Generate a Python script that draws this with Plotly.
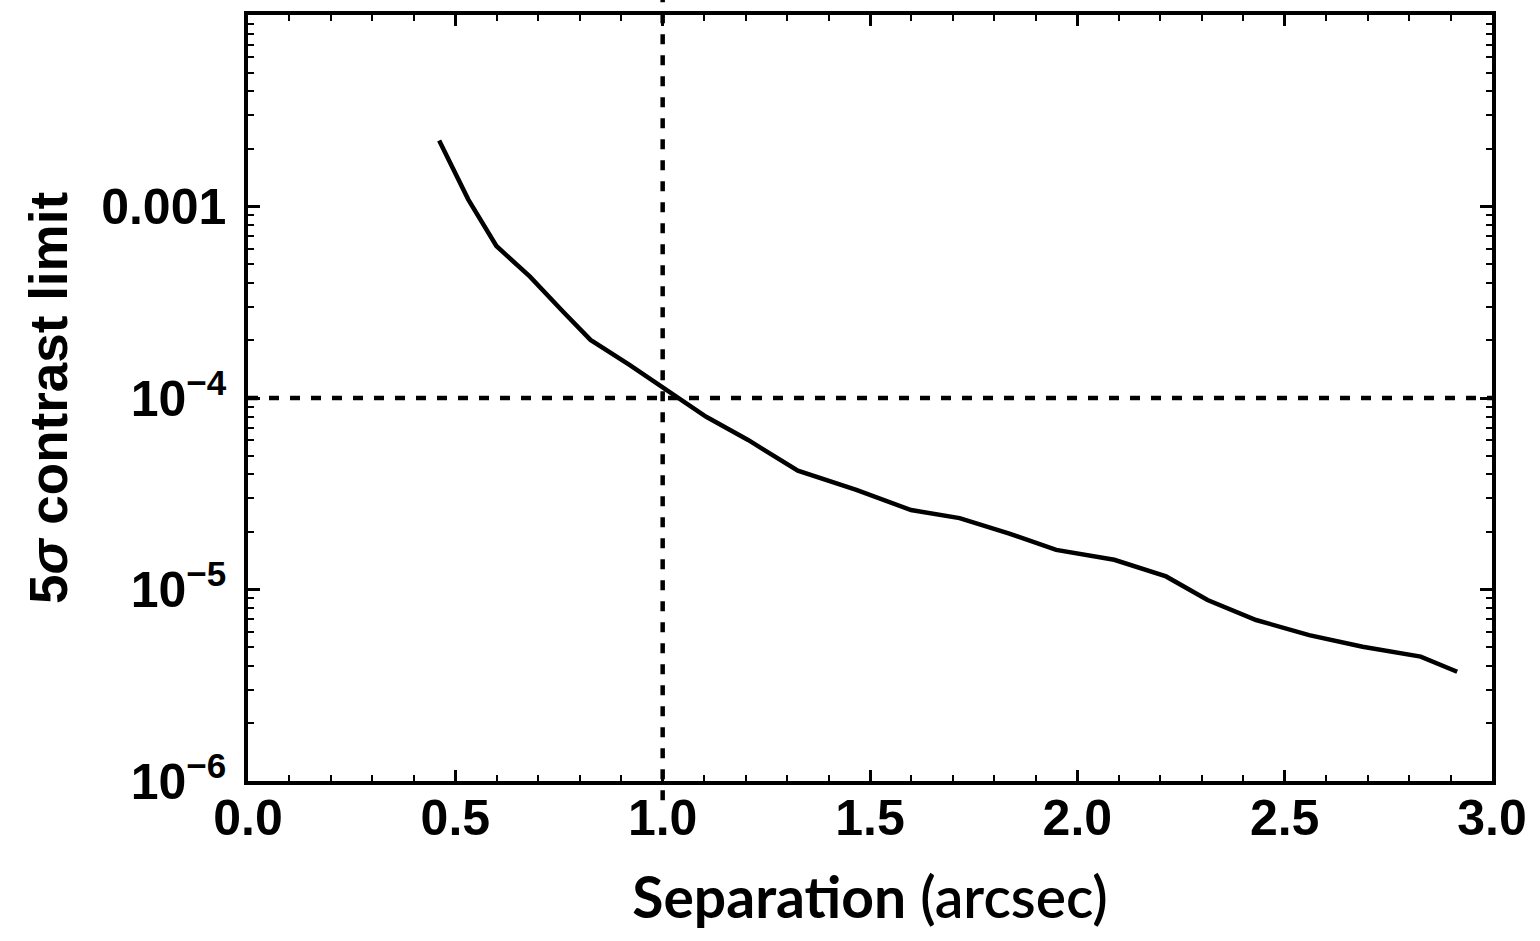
import plotly.graph_objects as go

separation = [0.461, 0.531, 0.599, 0.680, 0.760, 0.826, 0.920, 1.009, 1.105, 1.206,
              1.326, 1.467, 1.599, 1.716, 1.836, 1.949, 2.089, 2.214, 2.314, 2.431,
              2.559, 2.688, 2.828, 2.916]
contrast = [2.21e-3, 1.09e-3, 6.22e-4, 4.30e-4, 2.82e-4, 2.01e-4, 1.49e-4, 1.10e-4, 7.98e-5, 6.04e-5,
            4.17e-5, 3.31e-5, 2.60e-5, 2.36e-5, 1.96e-5, 1.61e-5, 1.43e-5, 1.17e-5, 8.81e-6, 6.93e-6,
            5.78e-6, 5.02e-6, 4.46e-6, 3.72e-6]

x_ticks = [0.0, 0.5, 1.0, 1.5, 2.0, 2.5, 3.0]
x_ticklabels = ["0.0", "0.5", "1.0", "1.5", "2.0", "2.5", "3.0"]
y_ticks = [1e-6, 1e-5, 1e-4, 1e-3]
y_ticklabels = ["10<sup>−6</sup>", "10<sup>−5</sup>", "10<sup>−4</sup>", "0.001"]
y_minor_ticks = [m * d for d in [1e-6, 1e-5, 1e-4, 1e-3] for m in range(2, 10)]
sep_limit = 1.0
contrast_limit = 1e-4

fig = go.Figure()
fig.add_trace(go.Scatter(x=separation, y=contrast, mode="lines",
                         line=dict(color="black", width=4.5), showlegend=False))

fig.add_shape(type="line", xref="x", yref="paper", x0=sep_limit, x1=sep_limit, y0=-0.025, y1=1.03,
              line=dict(color="black", width=4.5, dash="10px,11px"))
fig.add_shape(type="line", xref="paper", yref="y", x0=0, x1=1, y0=contrast_limit, y1=contrast_limit,
              line=dict(color="black", width=4.5, dash="10px,11px"))

fig.update_layout(
    width=1540, height=941,
    margin=dict(l=248, r=48, t=15, b=160),
    paper_bgcolor="white", plot_bgcolor="white",
    font=dict(family="Liberation Sans, Arial", color="black"),
    xaxis=dict(
        range=[0, 3], tickvals=x_ticks, ticktext=x_ticklabels,
        ticks="inside", ticklen=11, tickwidth=2.5, tickcolor="black",
        minor=dict(dtick=0.1, ticks="inside", ticklen=6, tickwidth=2, tickcolor="black"),
        showline=True, linecolor="black", linewidth=3.5, mirror="allticks",
        showgrid=False, zeroline=False,
        tickfont=dict(family="Liberation Sans, Arial", size=50, color="black", weight="bold"),
        ticklabelstandoff=-10,
        title=dict(text="<b>Separation</b> (arcsec)",
                   font=dict(family="Lato", size=57, color="black", weight=600),
                   standoff=34),
    ),
    yaxis=dict(
        type="log", range=[-6, -2], tickvals=y_ticks, ticktext=y_ticklabels,
        ticks="inside", ticklen=12, tickwidth=2.5, tickcolor="black",
        minor=dict(tickvals=y_minor_ticks, ticks="inside", ticklen=6, tickwidth=2,
                   tickcolor="black", showgrid=False),
        showline=True, linecolor="black", linewidth=3.5, mirror="allticks",
        showgrid=False, zeroline=False,
        tickfont=dict(family="Liberation Sans, Arial", size=50, color="black", weight="bold"),
        ticklabelstandoff=8,
        title=dict(text="<b>5<i>σ</i> contrast limit</b>",
                   font=dict(family="Liberation Sans, Arial", size=53, color="black"),
                   standoff=18),
    ),
)

fig.write_html("out.html")
